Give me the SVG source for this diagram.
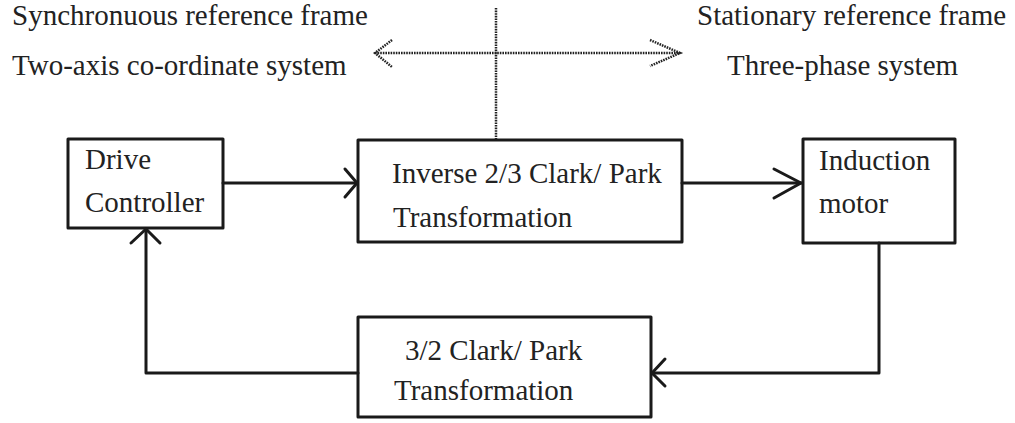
<svg xmlns="http://www.w3.org/2000/svg" width="1015" height="423" viewBox="0 0 1015 423">
<style>
text{font-family:"Liberation Serif","Times New Roman",serif;font-size:29px;fill:#222}
.box{fill:#fff;stroke:#1a1a1a;stroke-width:3;stroke-linejoin:round}
.ln{fill:none;stroke:#1a1a1a;stroke-width:3;stroke-linejoin:round;stroke-linecap:round}
.dot{fill:none;stroke:#222;stroke-width:2.5;stroke-dasharray:1.6 1}
</style>
<rect width="1015" height="423" fill="#fff"/>
<g id="labels">
<text x="12" y="25">Synchronuous reference frame</text>
<text x="12" y="75">Two-axis co-ordinate system</text>
<text x="697" y="25">Stationary reference frame</text>
<text x="727" y="75">Three-phase system</text>
</g>
<g id="frame-divider">
<path class="dot" d="M496 8V140"/>
<path class="dot" d="M375 53H680"/>
<path class="dot" d="M392 40L375 53L392 67"/>
<path class="dot" d="M650 40L680 53L650 66"/>
</g>
<g id="drive-controller">
<rect class="box" x="68" y="139" width="155" height="89"/>
<text x="85" y="169">Drive</text>
<text x="85" y="212">Controller</text>
</g>
<g id="inverse-transform">
<rect class="box" x="358" y="140" width="324" height="102"/>
<text x="392" y="183">Inverse 2/3 Clark/ Park</text>
<text x="393" y="227">Transformation</text>
</g>
<g id="induction-motor">
<rect class="box" x="803" y="139" width="152" height="104"/>
<text x="819" y="170">Induction</text>
<text x="819" y="213">motor</text>
</g>
<g id="forward-transform">
<rect class="box" x="358" y="317" width="293" height="100"/>
<text x="405" y="360">3/2 Clark/ Park</text>
<text x="394" y="400">Transformation</text>
</g>
<g id="connectors">
<path class="ln" d="M223 183H357"/>
<path class="ln" d="M345 169L357 183L345 197"/>
<path class="ln" d="M682 183H802"/>
<path class="ln" d="M774 169L801 183L774 198"/>
<path class="ln" d="M879 243V373H652"/>
<path class="ln" d="M665 359L652 373L665 386"/>
<path class="ln" d="M358 373H146V229"/>
<path class="ln" d="M131 243L146 229L160 243"/>
</g>
</svg>
